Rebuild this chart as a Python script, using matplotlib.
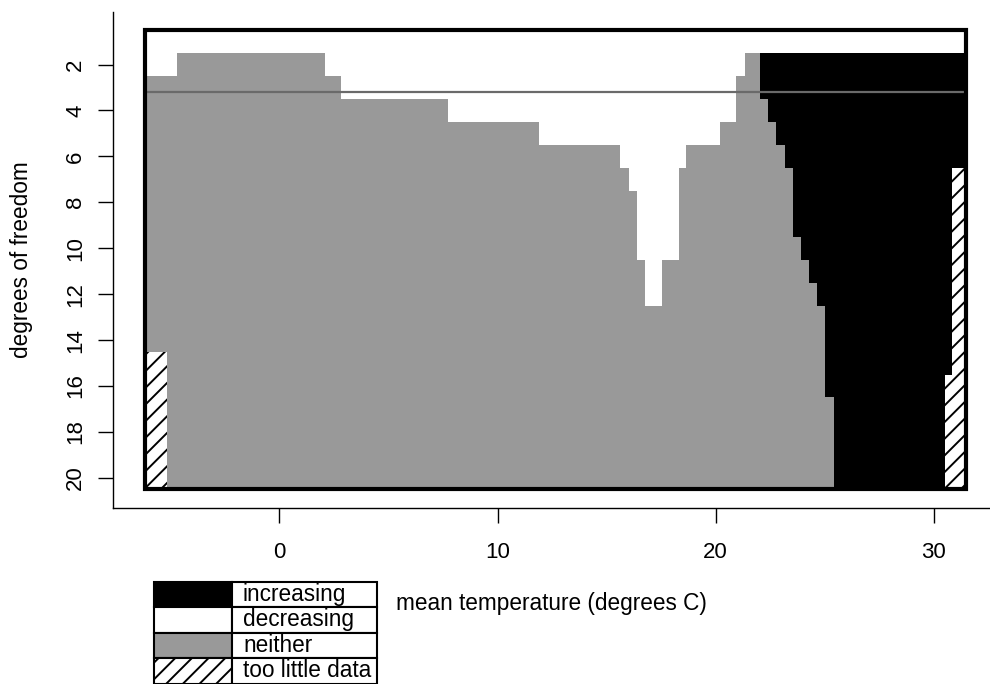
import numpy as np
import matplotlib
matplotlib.use('Agg')
import matplotlib.pyplot as plt
from matplotlib.patches import Rectangle

plt.rcParams['font.family'] = ['Liberation Sans', 'DejaVu Sans']
plt.rcParams['hatch.linewidth'] = 1.4

nan = np.nan
# ---------------- data ----------------
deg_freedom = np.arange(1, 21)
temp_min, temp_max = -6.16, 31.47
left_hatch_end = [nan] * 14 + [-5.14] * 6
left_white_end = [temp_max, -4.68] + [nan] * 18
notch_start = [nan, 2.10, 2.83, 7.72, 11.88, 15.63, 16.01, 16.39, 16.39, 16.39,
               16.77, 16.77] + [nan] * 8
notch_end = [nan, 21.33, 20.93, 20.93, 20.18, 18.65, 18.30, 18.30, 18.30, 18.30,
             17.54, 17.54] + [nan] * 8
black_start = [nan, 22.02, 22.02, 22.40, 22.78, 23.17, 23.53, 23.53, 23.53, 23.91,
               24.27, 24.65, 25.03, 25.03, 25.03, 25.03, 25.44, 25.44, 25.44, 25.44]
right_hatch_start = [nan] * 6 + [30.84] * 9 + [30.50] * 5
threshold_df = 3.2

categories = ['increasing', 'decreasing', 'neither', 'too little data']
xticks = [0, 10, 20, 30]
yticks = list(range(2, 21, 2))

styles = {
    'increasing': dict(facecolor='black', edgecolor='black', hatch=None),
    'decreasing': dict(facecolor='white', edgecolor='white', hatch=None),
    'neither': dict(facecolor='#999999', edgecolor='#999999', hatch=None),
    'too little data': dict(facecolor='white', edgecolor='black', hatch='//'),
}

# ---------------- build segments ----------------
segs = {c: [] for c in categories}  # (row, start, end)
for i, d in enumerate(deg_freedom):
    cur = temp_min
    if not np.isnan(left_hatch_end[i]):
        segs['too little data'].append((d, cur, left_hatch_end[i]))
        cur = left_hatch_end[i]
    if not np.isnan(left_white_end[i]):
        segs['decreasing'].append((d, cur, left_white_end[i]))
        cur = left_white_end[i]
    if np.isnan(black_start[i]):
        continue
    right_end = temp_max if np.isnan(right_hatch_start[i]) else right_hatch_start[i]
    if not np.isnan(notch_start[i]):
        segs['neither'].append((d, cur, notch_start[i]))
        segs['decreasing'].append((d, notch_start[i], notch_end[i]))
        segs['neither'].append((d, notch_end[i], black_start[i]))
    else:
        segs['neither'].append((d, cur, black_start[i]))
    segs['increasing'].append((d, black_start[i], right_end))
    if not np.isnan(right_hatch_start[i]):
        segs['too little data'].append((d, right_hatch_start[i], temp_max))

# ---------------- figure ----------------
W, H = 990, 684
fig = plt.figure(figsize=(W / 100, H / 100), dpi=100)
ax = fig.add_axes([113.3 / W, 1 - 507.7 / H, (990 - 113.3) / W, (507.7 - 11.7) / H])

for c in categories:
    s = segs[c]
    if not s:
        continue
    rows = [r for r, a, b in s]
    lefts = [a for r, a, b in s]
    widths = [b - a for r, a, b in s]
    st = styles[c]
    ax.barh(rows, widths, left=lefts, height=1.0, facecolor=st['facecolor'],
            edgecolor=st['edgecolor'], hatch=st['hatch'], linewidth=0,
            antialiased=False, zorder=2)

ax.hlines(threshold_df, temp_min, temp_max, colors='#6a6a6a', linewidth=1.6, zorder=4)
ax.add_patch(Rectangle((temp_min, deg_freedom.min() - 0.5), temp_max - temp_min,
                       len(deg_freedom), fill=False, edgecolor='black',
                       linewidth=3, zorder=5))

ax.set_xlim(-7.61, 32.57)
ax.set_ylim(21.3, -0.3)
ax.set_xticks(xticks)
ax.set_yticks(yticks)
ax.set_yticklabels([str(t) for t in yticks], rotation=90, va='center')
for sp in ['top', 'right']:
    ax.spines[sp].set_visible(False)
for sp in ['left', 'bottom']:
    ax.spines[sp].set_linewidth(1.0)
ax.tick_params(length=10.5, width=1.0, labelsize=16, colors='black')
ax.tick_params(axis='x', pad=14)
ax.tick_params(axis='y', pad=9)
ax.set_xlabel('mean temperature (degrees C)', fontsize=16.3, labelpad=21)
ax.set_ylabel('degrees of freedom', fontsize=16.3, labelpad=23)

# ---------------- legend table ----------------
lax = fig.add_axes([154 / W, 1 - 683.7 / H, (377.3 - 154) / W, (683.7 - 581.7) / H])
lax.set_xlim(0, 1)
lax.set_ylim(len(categories), 0)
lax.axis('off')
sw = (232.3 - 154) / (377.3 - 154)
tx = (243 - 154) / (377.3 - 154)
for i, c in enumerate(categories):
    st = styles[c]
    lax.add_patch(Rectangle((0, i), sw, 1, facecolor=st['facecolor'],
                            edgecolor='black', hatch=st['hatch'], linewidth=1.5,
                            clip_on=False))
    lax.add_patch(Rectangle((sw, i), 1 - sw, 1, facecolor='white',
                            edgecolor='black', linewidth=1.5, clip_on=False))
    lax.text(tx, i + 0.5, c, va='center', ha='left', fontsize=16.3)

fig.savefig('out.png', dpi=100)
